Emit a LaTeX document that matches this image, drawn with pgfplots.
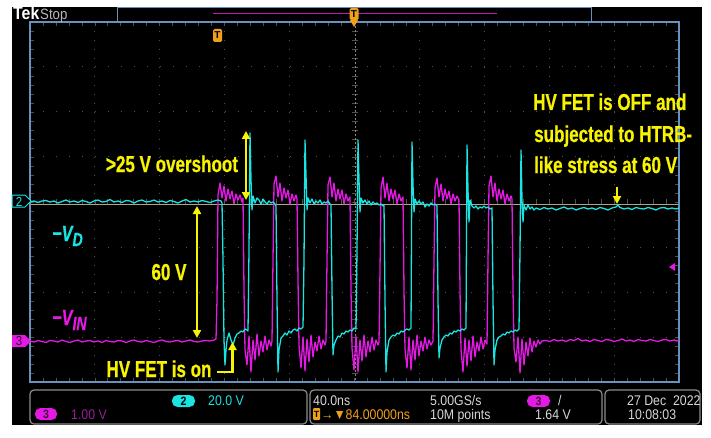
\documentclass[border=0pt]{standalone}
\usepackage{pgfplots}
\pgfplotsset{compat=1.18}
\usepackage{fontspec}
\setmainfont{Liberation Sans}
\newfontfamily\ann{Liberation Sans}[FakeStretch=0.74,FakeBold=0.6]
\newfontfamily\ui{Liberation Sans}[FakeStretch=0.88]
\usetikzlibrary{arrows.meta}

\definecolor{chtwo}{RGB}{25,228,228}
\definecolor{chthree}{RGB}{228,25,228}
\definecolor{chthreedim}{RGB}{150,30,150}
\definecolor{annyellow}{RGB}{248,244,0}
\definecolor{gridgray}{RGB}{80,80,80}
\definecolor{frameblue}{RGB}{105,145,190}
\definecolor{trigorange}{RGB}{240,160,25}
\definecolor{uitext}{RGB}{215,215,215}
\definecolor{boxgray}{RGB}{140,140,140}
\definecolor{levelline}{RGB}{175,165,135}

% screen coordinates: x to the right, y downwards, 1 unit = 1pt
\tikzset{screen/.style={x=1pt,y=-1pt,yshift=437pt},
  ya/.style={annyellow,line width=2.2pt},
  tip/.style={-{Triangle[length=8pt,width=8pt]}},
  annfont/.style={font=\ann\bfseries\fontsize{23}{27}\selectfont},
  uifont/.style={font=\ui\fontsize{14}{16}\selectfont, inner sep=0pt}}

\begin{document}
\begin{tikzpicture}
\begin{scope}[screen]
  \useasboundingbox (0,0) rectangle (711,437);
  \fill[white] (0,0) rectangle (711,437);
  \fill[black] (12,7) rectangle (702,425);
  % graticule
  \foreach \gx in {94.9,159.8,224.7,289.6,419.4,484.3,549.2,614.1}
    \draw[gridgray,line width=1pt,dash pattern=on 1pt off 8pt] (\gx,22) -- (\gx,382);
  \foreach \gy in {67,112,157,247,292,337}
    \draw[gridgray,line width=1pt,dash pattern=on 1pt off 11.98pt] (30,\gy) -- (679,\gy);
  \foreach \i in {1,...,49} {
    \draw[gridgray,line width=0.8pt] ({30+\i*12.98},199) -- ({30+\i*12.98},205);
    \draw[gridgray,line width=0.8pt] ({30+\i*12.98},22) -- ({30+\i*12.98},26);
    \draw[gridgray,line width=0.8pt] ({30+\i*12.98},378) -- ({30+\i*12.98},382);
  }
  \foreach \i in {1,...,39} {
    \draw[gridgray,line width=0.8pt] (351.5,{22+\i*9}) -- (357.5,{22+\i*9});
    \draw[gridgray,line width=0.8pt] (30,{22+\i*9}) -- (34,{22+\i*9});
    \draw[gridgray,line width=0.8pt] (675,{22+\i*9}) -- (679,{22+\i*9});
  }
  % trigger level and trigger position
  \draw[levelline,line width=0.8pt] (30,204) -- (679,204);
  \draw[levelline!80!black,line width=1pt,dash pattern=on 2pt off 2pt] (355,22) -- (355,382);
  \draw[frameblue,line width=1.2pt] (30,22) rectangle (679,382);
\end{scope}

\begin{axis}[at={(0pt,0pt)}, anchor=south west, x=1pt, y=1pt,
  xmin=0, xmax=711, ymin=0, ymax=437, y dir=reverse,
  hide axis, clip=false]
% channel 3 (magenta), -V_IN
\addplot[chthree, line width=1.3pt, line join=round] coordinates {
(30,341) (34,342) (38,340.5) (42,341.5) (46,342.5) (50,340.5) (54,341) (58,342) (62,340) (66,341.5)
(70,342.5) (74,341) (78,340) (82,342) (86,341) (90,340.5) (94,342) (98,341) (102,342.5) (106,340.5)
(110,341.5) (114,342) (118,340.5) (122,341) (126,342.5) (130,341) (134,340) (138,341.5) (142,342) (146,340.5)
(150,341.5) (154,342.5) (158,341) (162,340) (166,341.5) (170,342) (174,341) (178,340.5) (182,342) (186,341)
(190,340) (194,341.5) (198,342) (202,341) (206,340.5) (210,341) (214,340) (216,339)
(217,300) (218,195) (220,183) (222,198) (224,186) (226,201) (228,189) (230,199) (232,191) (234,204)
(236,194) (238,200) (240,195) (242,202) (243,198)
(244,290) (245,350) (247,365) (249,336) (251,372) (253,340) (255,360) (257,334) (259,356) (261,341)
(263,352) (265,336) (267,350) (269,340) (271,346) (272,341)
(273,260) (274,184) (276,176) (278,197) (280,183) (282,201) (284,188) (286,198) (288,190) (290,204)
(292,194) (294,201) (296,195) (297,199)
(298,280) (299,345) (301,368) (303,337) (305,371) (307,339) (309,362) (311,335) (313,357) (315,342)
(317,351) (319,336) (321,349) (323,340) (325,345) (326,341)
(327,260) (328,185) (330,177) (332,197) (334,183) (336,201) (338,189) (340,199) (342,190) (344,204)
(346,194) (348,201) (350,197)
(351,290) (352,348) (354,370) (356,336) (358,372) (360,340) (362,361) (364,335) (366,357) (368,341)
(370,352) (372,337) (374,350) (376,340) (378,345) (379,342)
(380,270) (381,188) (383,177) (385,198) (387,183) (389,201) (391,189) (393,199) (395,190) (397,204)
(399,194) (401,201) (403,197)
(404,290) (405,349) (407,368) (409,337) (411,370) (413,340) (415,360) (417,335) (419,356) (421,341)
(423,351) (425,337) (427,349) (429,340) (431,345) (433,341)
(434,260) (435,188) (437,178) (439,197) (441,184) (443,201) (445,189) (447,199) (449,191) (451,204)
(453,194) (455,201) (457,196) (459,200)
(460,290) (461,350) (463,372) (465,338) (467,366) (469,340) (471,361) (473,336) (475,357) (477,342)
(479,351) (481,337) (483,349) (485,340) (487,344)
(488,260) (489,186) (491,176) (493,197) (495,183) (497,201) (499,189) (501,199) (503,190) (505,204)
(507,194) (509,201) (511,196) (512,199)
(513,290) (514,348) (516,362) (518,337) (520,373) (522,339) (524,365) (526,342) (528,356) (530,338)
(532,352) (534,341) (536,347) (538,340) (540,344) (542,341)
(546,340.5) (550,341.5) (554,339.5) (558,341) (562,340) (566,341.5) (570,339.5) (574,340.5) (578,338.5) (582,341)
(586,340) (590,341.5) (594,339.5) (598,340.5) (602,341.5) (606,339.5) (610,340) (614,341.5) (618,340.5) (622,339)
(626,341) (630,340) (634,341.5) (638,339.5) (642,340.5) (646,341) (650,339.5) (654,340.5) (658,341.5) (662,340)
(666,339.5) (670,341) (674,340) (677,341) (679,340)
};
% channel 2 (cyan), -V_D
\addplot[chtwo, line width=1.3pt, line join=round] coordinates {
(30,202) (34,201) (38,202.5) (42,201) (46,200.5) (50,202) (54,201) (58,203) (62,201.5) (66,200)
(70,202) (74,201) (78,202.5) (82,200.5) (86,201.5) (90,203) (94,201) (98,200) (102,202) (106,201.5)
(110,199.5) (114,202) (118,201) (122,202.5) (126,200.5) (130,201) (134,203) (138,201) (142,200) (146,202)
(150,201.5) (154,200) (158,202) (162,201) (166,202.5) (170,200.5) (174,201.5) (178,203) (182,201) (186,199.5)
(190,202) (194,201) (198,202) (202,200.5) (206,201.5) (210,202.5) (214,201) (218,200) (221,201)
(222,203) (223,260) (224,340) (225,365) (226,350) (227,340) (229,333) (231,340) (233,345) (235,338)
(237,334) (239,333) (241,331) (243,332) (245,329) (247,330) (248,331)
(249,250) (250,133) (251,180) (252,210) (253,196) (255,203) (257,198) (259,200) (261,204) (263,199)
(265,202) (267,204) (269,201) (271,203) (273,202) (275,204) (276,206)
(277,300) (278,372) (279,350) (281,338) (283,336) (285,333) (287,335) (289,331) (291,333) (293,330)
(295,329) (297,331) (299,328) (301,329) (303,327)
(304,260) (305,140) (306,175) (307,210) (308,198) (310,203) (312,199) (314,204) (316,201) (318,203)
(320,200) (322,204) (324,202) (326,203) (328,201) (330,204) (331,205)
(332,290) (333,355) (334,345) (336,340) (338,336) (340,337) (342,333) (344,334) (346,331) (348,332)
(350,330) (352,331) (354,328) (356,329)
(357,250) (358,140) (359,180) (360,212) (361,198) (363,203) (365,200) (367,204) (369,201) (371,205)
(373,202) (375,204) (377,203) (379,205) (381,204) (383,206) (384,205)
(385,300) (386,372) (387,352) (389,340) (391,337) (393,335) (395,336) (397,333) (399,334) (401,331)
(403,332) (405,330) (407,329) (409,330) (411,328)
(412,142) (413,185) (414,212) (415,199) (417,204) (419,201) (421,204) (423,202) (425,207) (427,204)
(429,206) (431,203) (433,205) (435,204) (437,206)
(438,300) (439,358) (440,348) (442,340) (444,337) (446,335) (448,336) (450,333) (452,334) (454,331)
(456,332) (458,330) (460,331) (462,329) (464,330) (466,328)
(467,145) (468,190) (469,222) (470,200) (472,206) (474,208) (476,206) (478,209) (480,207) (482,208)
(484,206) (486,208) (488,207) (490,209) (492,208)
(493,300) (494,365) (495,350) (497,340) (499,337) (501,336) (503,334) (505,335) (507,332) (509,333)
(511,331) (513,332) (515,330) (517,331) (519,329)
(520,250) (521,150) (522,200) (523,222) (524,205) (526,210) (528,205) (530,209) (532,207) (534,210)
(536,208) (540,209.5) (544,207.5) (548,209) (552,208) (556,210) (560,208.5) (564,207) (568,209) (572,208)
(576,210) (580,208.5) (584,207.5) (588,209) (592,208) (596,209.5) (600,207.5) (604,208.5) (608,210) (612,208)
(616,207) (618,205) (620,207.5) (624,209) (628,208) (632,209.5) (636,207.5) (640,208.5) (644,209) (648,207.5)
(652,208.5) (656,210) (660,208) (664,207.5) (668,209) (672,208) (676,209) (679,208)
};
\end{axis}

\begin{scope}[screen]
  % channel reference markers
  \draw[chtwo,line width=1pt,fill=black] (12,195) -- (25,195) -- (31,201) -- (25,207) -- (12,207) -- cycle;
  \node[chtwo,font=\ui\fontsize{13}{13}\selectfont,inner sep=0pt] at (19,201.5) {2};
  \fill[chthree] (12,335) -- (25,335) -- (31,341) -- (25,347) -- (12,347) -- cycle;
  \node[black!80!chthree,font=\ui\fontsize{13}{13}\selectfont,inner sep=0pt] at (19,341.5) {3};
  \fill[chthree] (669,267) -- (675,263) -- (675,271) -- cycle;

  % top status bar
  \node[anchor=base west,white,font=\ui\bfseries\fontsize{18}{18}\selectfont,inner sep=0pt] at (13,20) {Tek};
  \node[anchor=base west,uitext!85!black,font=\ui\fontsize{15}{15}\selectfont,inner sep=0pt] at (40,19.5) {Stop};
  \draw[frameblue,line width=1pt] (117,22) -- (117,7.5) -- (591,7.5) -- (591,22);
  \draw[chthree!85!black,line width=1pt] (213,14) -- (497,14);
  \fill[trigorange,rounded corners=1.5pt] (349.5,8) rectangle (358.5,20);
  \node[black,font=\bfseries\fontsize{10}{10}\selectfont,inner sep=0pt] at (354,14.5) {T};
  \fill[trigorange] (350,20) -- (358,20) -- (354,27) -- cycle;
  \fill[trigorange,rounded corners=1.5pt] (213,29) rectangle (222,42);
  \node[black,font=\bfseries\fontsize{10}{10}\selectfont,inner sep=0pt] at (217.5,35.5) {T};

  % annotations
  \draw[ya,{Triangle[length=8pt,width=8pt]}-{Triangle[length=8pt,width=8pt]}] (246,131) -- (246,200);
  \draw[ya,{Triangle[length=8pt,width=8pt]}-{Triangle[length=8pt,width=8pt]}] (197,206) -- (197,338);
  \draw[ya,tip] (217,372) -- (232.5,372) -- (232.5,342);
  \draw[ya,tip] (617,187) -- (617,204);
  \node[annyellow,annfont,anchor=base,inner sep=0pt] at (172,172) {>25 V overshoot};
  \node[annyellow,annfont,anchor=base,inner sep=0pt] at (169,280) {60 V};
  \node[annyellow,annfont,anchor=base,inner sep=0pt] at (159,377) {HV FET is on};
  \node[annyellow,annfont,anchor=base west,inner sep=0pt] at (533,110) {HV FET is OFF and};
  \node[annyellow,annfont,anchor=base west,inner sep=0pt] at (534,142) {subjected to HTRB-};
  \node[annyellow,annfont,anchor=base west,inner sep=0pt] at (534,173) {like stress at 60 V};
  \node[chtwo,font=\ann\bfseries\itshape\fontsize{22}{22}\selectfont,anchor=base west,inner sep=0pt]
    at (52,241) {−V\raisebox{-5pt}{\fontsize{19}{19}\selectfont D}};
  \node[chthree,font=\ann\bfseries\itshape\fontsize{22}{22}\selectfont,anchor=base west,inner sep=0pt]
    at (52,325) {−V\raisebox{-5pt}{\fontsize{19}{19}\selectfont IN}};

  % bottom readout panel
  \draw[boxgray,line width=1.2pt,rounded corners=4pt] (30,390) rectangle (307,424);
  \draw[boxgray,line width=1.2pt,rounded corners=4pt] (310,390) rectangle (602,424);
  \draw[boxgray,line width=1.2pt,rounded corners=4pt] (605,390) rectangle (700,424);
  \fill[chtwo,rounded corners=5.5pt] (172,395) rectangle (195,407);
  \node[black,font=\ui\bfseries\fontsize{12}{12}\selectfont,inner sep=0pt] at (183.5,401.5) {2};
  \node[chtwo,uifont,anchor=base west] at (208,405) {20.0 V};
  \fill[chthree,rounded corners=5.5pt] (35,408) rectangle (57,420);
  \node[black!70!chthree,font=\ui\bfseries\fontsize{12}{12}\selectfont,inner sep=0pt] at (46,414.5) {3};
  \node[chthreedim,uifont,anchor=base west] at (71,419) {1.00 V};
  \node[uitext,uifont,anchor=base west] at (313,405) {40.0ns};
  \fill[trigorange,rounded corners=1pt] (313,408) rectangle (320,420);
  \node[black,font=\bfseries\fontsize{9}{9}\selectfont,inner sep=0pt] at (316.5,414.5) {T};
  \node[trigorange,uifont,anchor=base west] at (321,419) {→▼84.00000ns};
  \node[uitext,uifont,anchor=base west] at (430,405) {5.00GS/s};
  \node[uitext,uifont,anchor=base west] at (430,419) {10M points};
  \fill[chthree,rounded corners=5.5pt] (527,395) rectangle (550,407);
  \node[black!70!chthree,font=\ui\bfseries\fontsize{12}{12}\selectfont,inner sep=0pt] at (538.5,401.5) {3};
  \node[uitext,uifont,anchor=base west] at (558,405) {/};
  \node[uitext,uifont,anchor=base west] at (535,419) {1.64 V};
  \node[uitext,uifont,anchor=base west] at (627,405) {27 Dec\ \ 2022};
  \node[uitext,uifont,anchor=base west] at (628,419) {10:08:03};
\end{scope}
\end{tikzpicture}
\end{document}
